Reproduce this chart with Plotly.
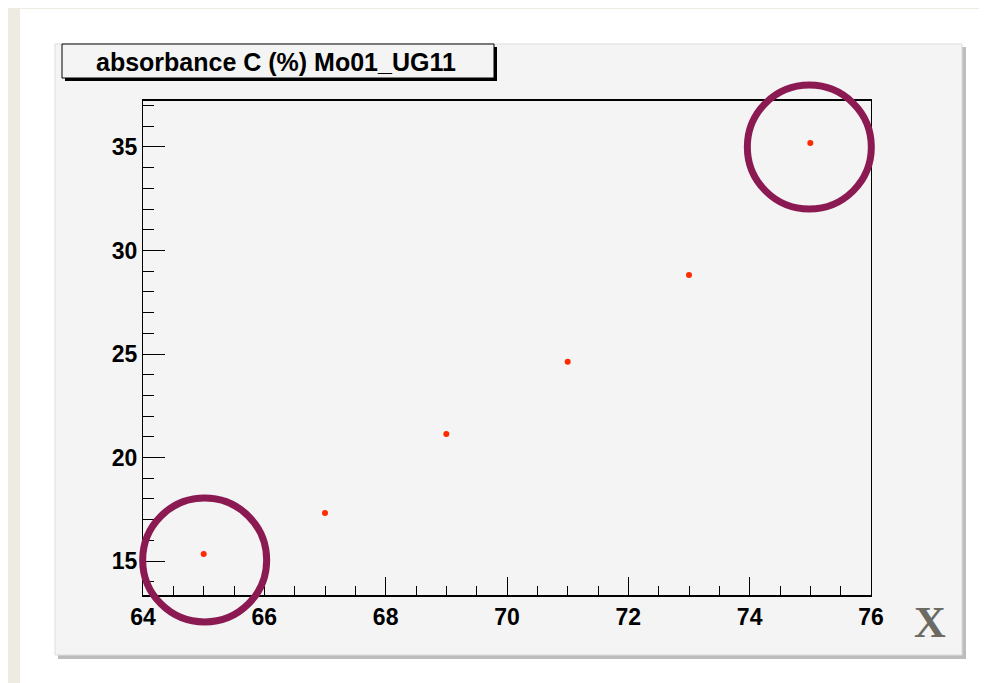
import plotly.graph_objects as go

x_vals = [65, 67, 69, 71, 73, 75]
y_vals = [15.34, 17.32, 21.14, 24.62, 28.82, 35.19]
title_text = "absorbance C (%) Mo01_UG11"
x_ticks = [64, 66, 68, 70, 72, 74, 76]
y_ticks = [15, 20, 25, 30, 35]

OFF = 8  # page body margin
W, H = 987 - OFF, 683 - OFF
L, R, T, B = 143 - OFF, 871 - OFF, 101 - OFF, 595 - OFF
XR = [64, 76]
YR = [13.36, 37.22]
def px(x): return (x - OFF - L) / (R - L)
def py(y): return (B - (y - OFF)) / (B - T)
def dx(v): return (v - XR[0]) / (XR[1] - XR[0])
def dy(v): return (v - YR[0]) / (YR[1] - YR[0])

fig = go.Figure(go.Scatter(x=x_vals, y=y_vals, mode="markers",
                           marker=dict(color="#ff2a00", size=6), showlegend=False))
shapes = [
    dict(type="rect", xref="paper", yref="paper", x0=px(20), x1=px(1000), y0=py(9), y1=py(700),
         fillcolor="white", line_width=0, layer="below"),
    dict(type="rect", xref="paper", yref="paper", x0=px(58), x1=px(966), y0=py(47), y1=py(659),
         fillcolor="#bdbdbd", line_width=0, layer="below"),
    dict(type="rect", xref="paper", yref="paper", x0=px(55), x1=px(962), y0=py(44), y1=py(655),
         fillcolor="#f4f4f4", line=dict(color="#dddddd", width=1), layer="below"),
    dict(type="rect", xref="paper", yref="paper", x0=px(65), x1=px(497), y0=py(47), y1=py(81),
         fillcolor="black", line_width=0),
    dict(type="rect", xref="paper", yref="paper", x0=px(62), x1=px(494), y0=py(44), y1=py(78),
         fillcolor="#f4f4f4", line=dict(color="black", width=1)),
]
rx, ry = 62 / (R - L), 62 / (B - T)
for i, (ox, oy) in ((0, (1, -6)), (-1, (-1, -4))):
    cx = dx(x_vals[i]) + ox / (R - L)
    cy = dy(y_vals[i]) + oy / (B - T)
    shapes.append(dict(type="circle", xref="paper", yref="paper",
                       x0=cx - rx, x1=cx + rx, y0=cy - ry, y1=cy + ry,
                       line=dict(color="#8c1a52", width=7)))
bold = dict(family="Liberation Sans, Arial", size=23, color="black")
fig.update_layout(
    width=W, height=H, margin=dict(l=L, r=W - R, t=T, b=H - B),
    paper_bgcolor="#eeebe3", plot_bgcolor="#f4f4f4",
    shapes=shapes,
    annotations=[
        dict(text="<b>" + title_text + "</b>", xref="paper", yref="paper", x=px(276), y=py(62),
             xanchor="center", yanchor="middle", showarrow=False,
             font=dict(family="Liberation Sans, Arial", size=25, color="black")),
        dict(text="<b>X</b>", xref="paper", yref="paper", x=px(930), y=py(622), xanchor="center",
             yanchor="middle", showarrow=False,
             font=dict(family="Liberation Serif, Times New Roman", size=44, color="#6b6b63")),
    ],
    font=bold,
)
fig.update_xaxes(range=XR, tickvals=x_ticks, ticktext=[f"<b>{t}</b>" for t in x_ticks],
                 tickfont=bold, ticks="inside", ticklen=18, tickcolor="black",
                 showline=True, linecolor="black", linewidth=2, mirror=True, showgrid=False, zeroline=False,
                 minor=dict(dtick=0.5, ticks="inside", ticklen=9, tickcolor="black", showgrid=False))
fig.update_yaxes(range=YR, tickvals=y_ticks, ticktext=[f"<b>{t}</b>" for t in y_ticks],
                 tickfont=bold, ticks="inside", ticklen=22, tickcolor="black",
                 showline=True, linecolor="black", linewidth=1, mirror=True, showgrid=False, zeroline=False,
                 minor=dict(dtick=1, ticks="inside", ticklen=11, tickcolor="black", showgrid=False))
fig.write_html("out.html")
